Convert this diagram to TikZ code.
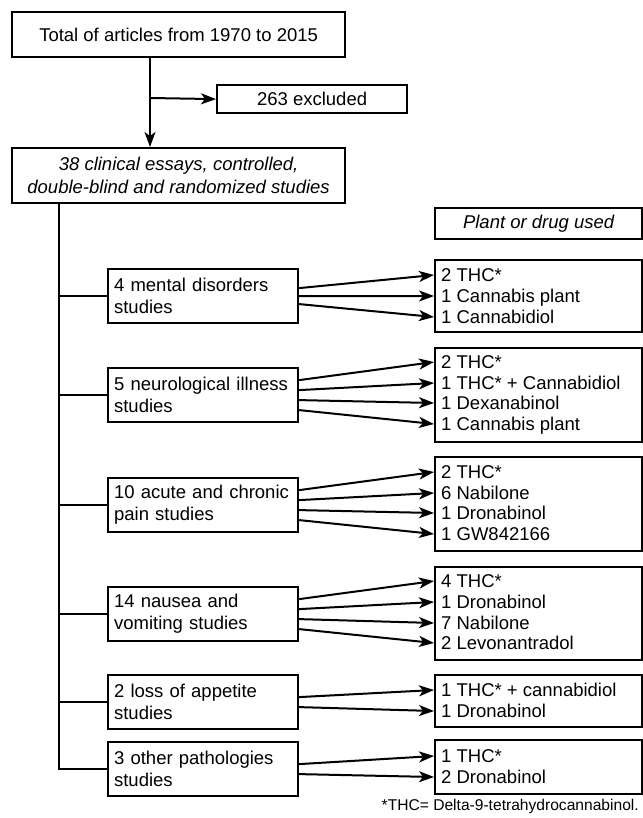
\documentclass[tikz,border=0pt]{standalone}
\usepackage{fontspec}
\setmainfont{Liberation Sans}
\usetikzlibrary{arrows.meta}

\begin{document}
\begin{tikzpicture}[x=1pt,y=-1pt,
    box/.style={draw,line width=2.2pt,anchor=north west,inner xsep=6pt,inner ysep=0pt,
      font=\fontsize{18.5}{22}\selectfont},
    groupbox/.style={box,text width=178pt,align=left,minimum height=54pt},
    drugbox/.style={box,minimum width=207pt},
    drug/.style={anchor=west,inner xsep=7pt,inner ysep=0pt,text height=13.3pt,text depth=0pt,
      font=\fontsize{18.5}{21}\selectfont},
    link/.style={line width=2pt},
    arr/.style={link,-{Stealth[length=15pt,width=11pt,inset=4pt]}}]

  \useasboundingbox (0,0) rectangle (642,818);

  % selection
  \node[box,minimum width=333pt,minimum height=45pt] (total) at (11,11) {Total of articles from 1970 to 2015};
  \node[box,minimum width=190pt,minimum height=28pt] (excluded) at (216,84) {263 excluded};
  \node[box,minimum width=333pt,minimum height=55pt,align=center,
    font=\fontsize{18.5}{23}\selectfont\itshape] (studies) at (11,147)
    {38 clinical essays, controlled,\\double-blind and randomized studies};
  \coordinate (j0) at (150,98);
  \coordinate (k0) at (59,202);

  % groups of studies
  \node[groupbox] (mental) at (107,268) {4 mental disorders\\studies};
  \node[groupbox] (neuro) at (107,367) {5 neurological illness\\studies};
  \node[groupbox] (pain) at (107,477) {10 acute and chronic\\pain studies};
  \node[groupbox] (nausea) at (107,586) {14 nausea and\\vomiting studies};
  \node[groupbox] (appetite) at (107,674) {2 loss of appetite\\studies};
  \node[groupbox] (other) at (107,741) {3 other pathologies\\studies};

  % plant or drug
  \node[drugbox,minimum height=31pt,font=\fontsize{18.5}{22}\selectfont\itshape] (plant) at (434,207) {Plant or drug used};
  \node[drugbox,minimum height=72pt] (r1) at (434,259) {};
  \node[drugbox,minimum height=94pt] (r2) at (434,347) {};
  \node[drugbox,minimum height=94pt] (r3) at (434,456) {};
  \node[drugbox,minimum height=93pt] (r4) at (434,566) {};
  \node[drugbox,minimum height=52pt] (r5) at (434,674) {};
  \node[drugbox,minimum height=54pt] (r6) at (434,739) {};

  \node[drug] (r1a) at (434,275) {2 THC*};
  \node[drug] (r1b) at (434,296) {1 Cannabis plant};
  \node[drug] (r1c) at (434,317) {1 Cannabidiol};
  \node[drug] (r2a) at (434,362) {2 THC*};
  \node[drug] (r2b) at (434,383) {1 THC* + Cannabidiol};
  \node[drug] (r2c) at (434,403) {1 Dexanabinol};
  \node[drug] (r2d) at (434,424) {1 Cannabis plant};
  \node[drug] (r3a) at (434,472) {2 THC*};
  \node[drug] (r3b) at (434,493) {6 Nabilone};
  \node[drug] (r3c) at (434,513) {1 Dronabinol};
  \node[drug] (r3d) at (434,534) {1 GW842166};
  \node[drug] (r4a) at (434,581) {4 THC*};
  \node[drug] (r4b) at (434,602) {1 Dronabinol};
  \node[drug] (r4c) at (434,623) {7 Nabilone};
  \node[drug] (r4d) at (434,643) {2 Levonantradol};
  \node[drug] (r5a) at (434,690) {1 THC* + cannabidiol};
  \node[drug] (r5b) at (434,711) {1 Dronabinol};
  \node[drug] (r6a) at (434,756) {1 THC*};
  \node[drug] (r6b) at (434,777) {2 Dronabinol};

  \node[anchor=base east,inner sep=0pt,font=\fontsize{15.6}{18}\selectfont] (note) at (639,810)
    {*THC= Delta-9-tetrahydrocannabinol.};

  % connectors
  \draw[arr] (total.south -| j0) -- (studies.north -| j0);
  \draw[arr] (j0) -- (excluded.west);
  \draw[link] (studies.south -| k0) |- (other.west);
  \draw[link] (k0 |- mental.west) -- (mental.west);
  \draw[link] (k0 |- neuro.west) -- (neuro.west);
  \draw[link] (k0 |- pain.west) -- (pain.west);
  \draw[link] (k0 |- nausea.west) -- (nausea.west);
  \draw[link] (k0 |- appetite.west) -- (appetite.west);

  \begin{scope}[arr]
    \draw ([yshift=8pt]mental.east) to (r1a.west);
    \draw ([yshift=0pt]mental.east) to (r1b.west);
    \draw ([yshift=-8pt]mental.east) to (r1c.west);
    \draw ([yshift=15pt]neuro.east) to (r2a.west);
    \draw ([yshift=5pt]neuro.east) to (r2b.west);
    \draw ([yshift=-5pt]neuro.east) to (r2c.west);
    \draw ([yshift=-15pt]neuro.east) to (r2d.west);
    \draw ([yshift=15pt]pain.east) to (r3a.west);
    \draw ([yshift=5pt]pain.east) to (r3b.west);
    \draw ([yshift=-5pt]pain.east) to (r3c.west);
    \draw ([yshift=-15pt]pain.east) to (r3d.west);
    \draw ([yshift=15pt]nausea.east) to (r4a.west);
    \draw ([yshift=5pt]nausea.east) to (r4b.west);
    \draw ([yshift=-5pt]nausea.east) to (r4c.west);
    \draw ([yshift=-15pt]nausea.east) to (r4d.west);
    \draw ([yshift=5pt]appetite.east) to (r5a.west);
    \draw ([yshift=-5pt]appetite.east) to (r5b.west);
    \draw ([yshift=5pt]other.east) to (r6a.west);
    \draw ([yshift=-5pt]other.east) to (r6b.west);
  \end{scope}
\end{tikzpicture}
\end{document}
